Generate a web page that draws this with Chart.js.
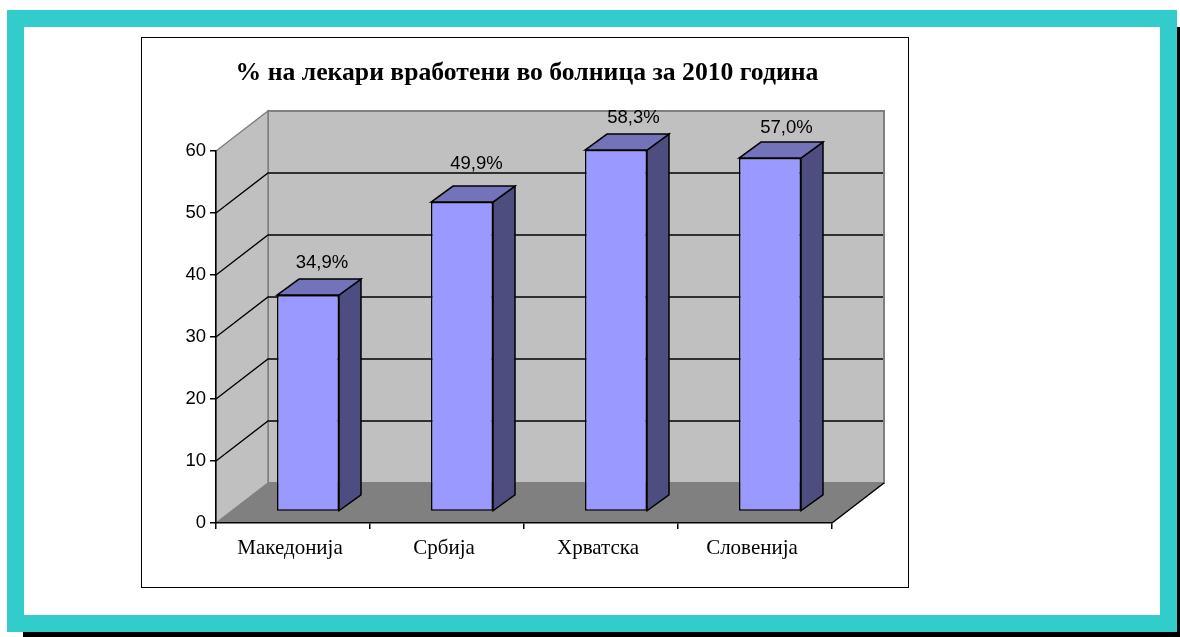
<!DOCTYPE html>
<html>
<head>
<meta charset="utf-8">
<style>
  html, body { margin: 0; padding: 0; background: #fff; overflow: hidden; }
  body { width: 1180px; height: 637px; position: relative; }
  .shadow { position: absolute; left: 23px; top: 27px; width: 1157px; height: 610px; background: #000; }
  .frame { position: absolute; left: 7px; top: 10px; width: 1136px; height: 588px; border: 17px solid #33CCCC; background: #fff; }
  .box { position: absolute; left: 141px; top: 37px; width: 768px; height: 551px; box-sizing: border-box; border: 1.5px solid #000; background: #fff; }
  .plot { position: absolute; left: 146px; top: 38px; width: 762px; height: 548px; }
</style>
</head>
<body>
<div class="shadow"></div>
<div class="frame"></div>
<div class="box"></div>
<div class="plot"><canvas id="chart" width="762" height="548"></canvas></div>
<script src="https://cdn.jsdelivr.net/npm/chart.js@4"></script>
<script>
  // ── Data ────────────────────────────────────────────────
  const titleText = '% на лекари вработени во болница за 2010 година';
  const categories = ['Македонија', 'Србија', 'Хрватска', 'Словенија'];
  const values = [34.9, 49.9, 58.3, 57.0];
  const yMax = 60;
  const yStep = 10;

  // ── Fake 3D look ────────────────────────────────────────
  const WALL_DX = 52, WALL_DY = -40;   // depth of the whole plot box
  const BAR_DX = 15, BAR_DY = -11.5;   // bars stand a bit behind the front edge
  const SIDE_DX = 22, SIDE_DY = -16;   // depth of one bar
  // excel places the value labels a little unevenly
  const labelLift = [32.5, 38.5, 32.5, 30.5];
  const labelShift = [14, 14.5, 17.5, 16.5];

  function quad(ctx, pts, fill, stroke, lw) {
    ctx.beginPath();
    pts.forEach((p, i) => i ? ctx.lineTo(p[0], p[1]) : ctx.moveTo(p[0], p[1]));
    ctx.closePath();
    if (fill) { ctx.fillStyle = fill; ctx.fill(); }
    if (stroke) { ctx.strokeStyle = stroke; ctx.lineWidth = lw; ctx.stroke(); }
  }

  const walls = {
    id: 'walls',
    beforeDraw(chart) {
      const { ctx, chartArea: a, scales: { y } } = chart;
      const l = a.left, r = a.right, t = a.top, b = a.bottom;
      ctx.save();
      // back wall
      quad(ctx, [[l + WALL_DX, t + WALL_DY], [r + WALL_DX, t + WALL_DY], [r + WALL_DX, b + WALL_DY], [l + WALL_DX, b + WALL_DY]], '#C0C0C0', '#808080', 2);
      // side wall
      quad(ctx, [[l, t], [l + WALL_DX, t + WALL_DY], [l + WALL_DX, b + WALL_DY], [l, b]], '#C0C0C0', '#808080', 1.5);
      // floor
      quad(ctx, [[l, b], [l + WALL_DX, b + WALL_DY], [r + WALL_DX, b + WALL_DY], [r, b]], '#808080', null);
      ctx.strokeStyle = '#000'; ctx.lineWidth = 1.5;
      ctx.beginPath(); ctx.moveTo(r, b); ctx.lineTo(r + WALL_DX, b + WALL_DY); ctx.stroke();
      // grid lines
      ctx.lineWidth = 1.3;
      y.ticks.forEach(tk => {
        if (tk.value === 0 || tk.value === yMax) return;
        const py = y.getPixelForValue(tk.value);
        ctx.beginPath();
        ctx.moveTo(l, py);
        ctx.lineTo(l + WALL_DX, py + WALL_DY);
        ctx.lineTo(r + WALL_DX - 1, py + WALL_DY);
        ctx.stroke();
      });
      ctx.restore();
    },
    beforeDatasetDraw(chart) {
      chart.ctx.save();
      chart.ctx.translate(BAR_DX, BAR_DY);
    },
    afterDatasetDraw(chart, args) {
      const ctx = chart.ctx;
      args.meta.data.forEach((bar, i) => {
        const left = bar.x - bar.width / 2, right = bar.x + bar.width / 2;
        const top = bar.y, base = bar.base;
        quad(ctx, [[right, base], [right + SIDE_DX, base + SIDE_DY], [right + SIDE_DX, top + SIDE_DY], [right, top]], '#4D4D80', '#000', 1.5);
        quad(ctx, [[left, top], [left + SIDE_DX, top + SIDE_DY], [right + SIDE_DX, top + SIDE_DY], [right, top]], '#7373B9', '#000', 1.5);
        ctx.fillStyle = '#000';
        ctx.font = '18.5px "Liberation Sans"';
        ctx.textAlign = 'center';
        ctx.textBaseline = 'middle';
        ctx.fillText(values[i].toFixed(1).replace('.', ',') + '%', bar.x + labelShift[i], top - labelLift[i]);
      });
      ctx.restore();
    }
  };

  new Chart(document.getElementById('chart').getContext('2d'), {
    type: 'bar',
    data: {
      labels: categories,
      datasets: [{
        data: values,
        backgroundColor: '#9999FF',
        borderColor: '#000',
        borderWidth: 1.5,
        borderSkipped: false,
        categoryPercentage: 1,
        barPercentage: 0.4026,
        clip: false
      }]
    },
    options: {
      responsive: false,
      animation: false,
      plugins: {
        legend: { display: false },
        tooltip: { enabled: false },
        title: {
          display: true,
          text: titleText,
          color: '#000',
          font: { family: '"Liberation Serif"', size: 25.7, weight: 'bold', lineHeight: 1.2 },
          padding: { top: 19.6, bottom: 62.56 }
        }
      },
      scales: {
        x: {
          grid: { drawOnChartArea: false, drawTicks: true, tickLength: 6, color: '#000', offset: true, lineWidth: 1.5 },
          border: { color: '#000', width: 1.5 },
          ticks: { color: '#000', padding: 7, labelOffset: -3, maxRotation: 0, font: { family: '"Liberation Serif"', size: 21 } },
          afterFit: s => { s.height = 63; }
        },
        y: {
          min: 0, max: yMax,
          grid: { drawOnChartArea: false, drawTicks: true, tickLength: 6, color: '#000', lineWidth: 1.5 },
          border: { color: '#000', width: 1.5 },
          ticks: { stepSize: yStep, color: '#000', padding: 4, font: { family: '"Liberation Sans"', size: 18.5 } },
          afterFit: s => { s.width = 70; }
        },
        // empty axis, only keeps the room right of the floor so the title stays centred
        spacer: {
          type: 'linear',
          position: 'right',
          grid: { display: false },
          border: { display: false },
          ticks: { display: false },
          afterFit: s => { s.width = 76; }
        }
      }
    },
    plugins: [walls]
  });
</script>
</body>
</html>
